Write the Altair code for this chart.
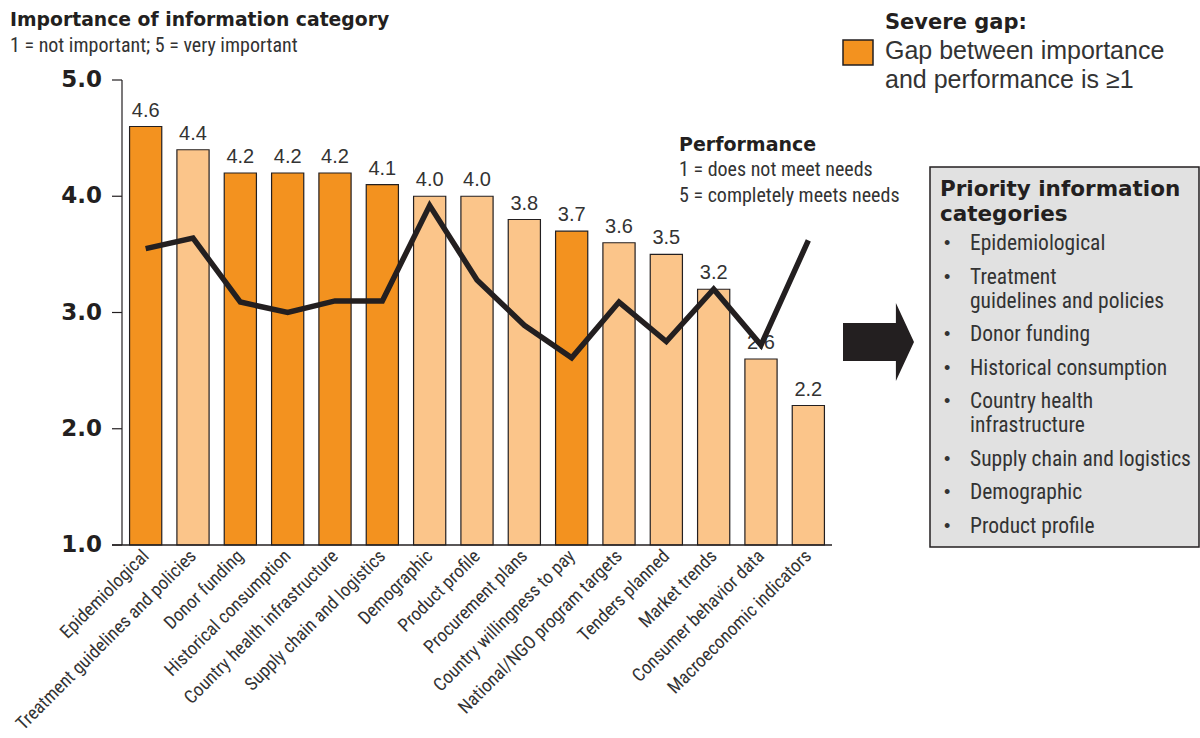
import altair as alt
import pandas as pd

# Information categories, ordered by importance
categories = [
    "Epidemiological",
    "Treatment guidelines and policies",
    "Donor funding",
    "Historical consumption",
    "Country health infrastructure",
    "Supply chain and logistics",
    "Demographic",
    "Product profile",
    "Procurement plans",
    "Country willingness to pay",
    "National/NGO program targets",
    "Tenders planned",
    "Market trends",
    "Consumer behavior data",
    "Macroeconomic indicators",
]
importance = [4.6, 4.4, 4.2, 4.2, 4.2, 4.1, 4.0, 4.0, 3.8, 3.7, 3.6, 3.5, 3.2, 2.6, 2.2]
performance = [3.55, 3.64, 3.09, 3.0, 3.1, 3.1, 3.92, 3.28, 2.89, 2.61, 3.09, 2.75, 3.2, 2.72, 3.62]
severe_gap = [True, False, True, True, True, True, False, False, False, True, False, False, False, False, False]
y_ticks = [1, 2, 3, 4, 5]

priority_items = [
    ["Epidemiological"],
    ["Treatment", "guidelines and policies"],
    ["Donor funding"],
    ["Historical consumption"],
    ["Country health", "infrastructure"],
    ["Supply chain and logistics"],
    ["Demographic"],
    ["Product profile"],
]

DARK = "#F3921F"
LIGHT = "#FBC58A"
INK = "#231F20"
TEXT = "#333333"
COND = "Liberation Sans Narrow, Roboto Condensed, Roboto"
HEAVY = "DejaVu Sans"

df = pd.DataFrame({
    "category": categories,
    "importance": importance,
    "performance": performance,
    "gap": ["severe" if s else "other" for s in severe_gap],
})
ticks_df = pd.DataFrame({"tick": y_ticks})

W, H = 710, 465

xscale = alt.Scale(domain=categories, paddingInner=0.32, paddingOuter=0.16)
yscale = alt.Scale(domain=[1, 5], nice=False, zero=False)


def xcat():
    return alt.X("category:N", sort=categories, scale=xscale, axis=None)


def yval(field):
    return alt.Y(f"{field}:Q", scale=yscale, axis=None)


base = alt.Chart(df)

bars = base.mark_bar(stroke=INK, strokeWidth=1.2).encode(
    x=xcat(),
    y=yval("importance"),
    y2=alt.datum(1),
    color=alt.Color("gap:N", scale=alt.Scale(domain=["severe", "other"], range=[DARK, LIGHT]), legend=None),
)

values = base.mark_text(baseline="bottom", dy=-6, font="Liberation Sans", fontSize=20, color=TEXT).encode(
    x=xcat(),
    y=yval("importance"),
    text=alt.Text("importance:Q", format=".1f"),
)

line = base.mark_line(color=INK, strokeWidth=5.5, strokeJoin="miter").encode(
    x=xcat(),
    y=yval("performance"),
)

# Category labels, rotated 45 degrees and hanging from the baseline
cat_labels = base.mark_text(
    angle=315, align="right", baseline="middle", font=COND, fontSize=18.5, color=TEXT
).encode(
    x=xcat(),
    y=alt.value(H + 8),
    text="category:N",
)

# Value axis drawn by hand: ticks and bold labels
tick_marks = alt.Chart(ticks_df).mark_rule(color=INK, strokeWidth=1.2).encode(
    x=alt.value(-10), x2=alt.value(0), y=yval("tick")
)
tick_labels = alt.Chart(ticks_df).mark_text(
    align="right", baseline="middle", font=HEAVY, fontWeight="bold", fontSize=23, color=INK
).encode(
    x=alt.value(-20), y=yval("tick"), text=alt.Text("tick:Q", format=".1f")
)

# Axis lines: vertical at the left edge, horizontal baseline running under the ticks
frame = alt.Chart(alt.Data(values=[{}]))
left_rule = frame.mark_rule(color=INK, strokeWidth=1.2).encode(
    x=alt.value(0), y=alt.value(0), y2=alt.value(H)
)
baseline_rule = frame.mark_rule(color=INK, strokeWidth=1.5).encode(
    x=alt.value(-10), x2=alt.value(W), y=alt.value(H)
)


def note(text, px, py, size, bold=False, font=COND, color=TEXT, baseline="alphabetic"):
    return alt.Chart(alt.Data(values=[{}])).mark_text(
        text=text, align="left", baseline=baseline, font=font, fontSize=size,
        fontWeight="bold" if bold else "normal", color=color,
    ).encode(x=alt.value(px), y=alt.value(py))


layers = [bars, left_rule, baseline_rule, tick_marks, tick_labels, cat_labels, values, line]

# Heading above the axis
layers.append(note("Importance of information category", -112, -54, 18.8, bold=True, font=HEAVY, color=INK))
layers.append(note("1 = not important; 5 = very important", -112, -28, 20))

# Performance note
layers.append(note("Performance", 557, 71, 19, bold=True, font=HEAVY, color=INK))
layers.append(note("1 = does not meet needs", 557, 96, 20))
layers.append(note("5 = completely meets needs", 557, 122, 20))

# Severe gap key
layers.append(
    alt.Chart(alt.Data(values=[{}])).mark_rect(fill=DARK, stroke=INK, strokeWidth=1.5).encode(
        x=alt.value(721), x2=alt.value(751), y=alt.value(-40), y2=alt.value(-15)
    )
)
layers.append(note("Severe gap:", 763, -51, 21, bold=True, font=HEAVY, color=INK))
layers.append(note("Gap between importance", 763, -21, 25, font="Liberation Sans"))
layers.append(note("and performance is \u22651", 763, 8, 25, font="Liberation Sans"))

# Arrow pointing to the priority box
arrow_path = "M -1 -0.535 L 0.49 -0.535 L 0.49 -1.1 L 1 0 L 0.49 1.1 L 0.49 0.535 L -1 0.535 Z"
layers.append(
    alt.Chart(alt.Data(values=[{}])).mark_point(
        shape=arrow_path, size=5041, filled=True, fill=INK, opacity=1, strokeWidth=0
    ).encode(x=alt.value(756.5), y=alt.value(262))
)

# Priority information box
layers.append(
    alt.Chart(alt.Data(values=[{}])).mark_rect(fill="#E1E1E1", stroke=INK, strokeWidth=1.5).encode(
        x=alt.value(808), x2=alt.value(1077), y=alt.value(87), y2=alt.value(467)
    )
)
layers.append(note("Priority information", 818, 116, 21.5, bold=True, font=HEAVY, color=INK))
layers.append(note("categories", 818, 141, 21.5, bold=True, font=HEAVY, color=INK))

row_y = 164
for item in priority_items:
    layers.append(note("\u2022", 822, row_y, 18, font="Liberation Sans", baseline="middle"))
    for k, ln in enumerate(item):
        layers.append(note(ln, 848, row_y + 24 * k, 21.5, baseline="middle"))
    row_y += 24 * (len(item) - 1) + 33.5

chart = alt.layer(*layers).properties(
    width=W,
    height=H,
    background="white",
    autosize=alt.AutoSizeParams(type="none"),
    padding={"left": 122, "top": 80, "right": 368, "bottom": 193},
).configure_view(stroke="transparent", strokeWidth=0)

chart.save("out.html", embed_options={"renderer": "svg", "actions": False})
